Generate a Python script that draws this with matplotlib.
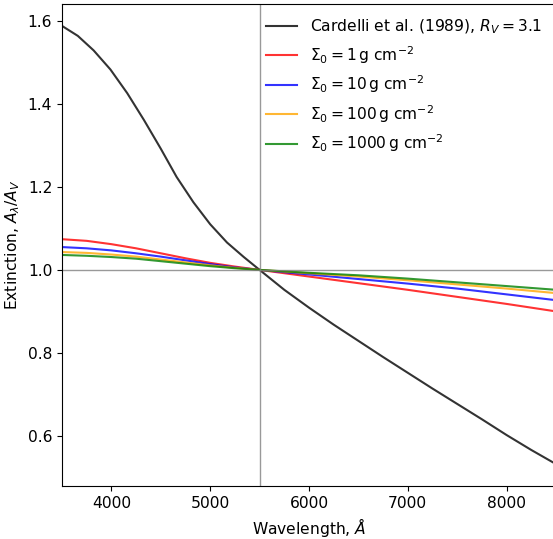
import matplotlib
matplotlib.use('Agg')
import matplotlib.pyplot as plt
import numpy as np

# wavelength grid (Angstrom) and curves
wl_ccm = [3500, 3660, 3820, 3990, 4160, 4330, 4500, 4660, 4830, 5000, 5170, 5340,
          5500, 5750, 6000, 6250, 6500, 6750, 7000, 7250, 7500, 7750, 8000, 8250, 8500]
ext_ccm = [1.588, 1.564, 1.529, 1.483, 1.426, 1.361, 1.292, 1.224, 1.163, 1.110, 1.066, 1.031,
           1.000, 0.952, 0.909, 0.868, 0.829, 0.790, 0.752, 0.714, 0.677, 0.640, 0.602, 0.566, 0.532]

wl = [3500, 3750, 4000, 4250, 4500, 4750, 5000, 5250, 5500,
      6000, 6500, 7000, 7500, 8000, 8500]
ext_s1 = [1.074, 1.070, 1.062, 1.052, 1.040, 1.028, 1.017, 1.008, 1.000,
          0.984, 0.968, 0.952, 0.935, 0.918, 0.900]
ext_s10 = [1.055, 1.052, 1.047, 1.040, 1.032, 1.023, 1.014, 1.006, 1.000,
           0.989, 0.978, 0.967, 0.955, 0.941, 0.927]
ext_s100 = [1.043, 1.041, 1.037, 1.032, 1.025, 1.018, 1.011, 1.005, 1.000,
            0.992, 0.984, 0.975, 0.965, 0.955, 0.944]
ext_s1000 = [1.036, 1.034, 1.031, 1.027, 1.021, 1.015, 1.009, 1.004, 1.000,
             0.993, 0.987, 0.979, 0.970, 0.961, 0.952]

sigmas = [1, 10, 100, 1000]
colours = ['red', 'blue', 'orange', 'green']

plt.rcParams['font.size'] = 11.2

fig = plt.figure(figsize=(5.53, 5.39), dpi=100)
ax = fig.add_axes([62/553, 53/539, 494/553, 482/539])

ax.plot(wl_ccm, ext_ccm, color='k', alpha=0.8, lw=1.5,
        label=r'Cardelli et al. (1989), $R_V=3.1$')
for s, e, c in zip(sigmas, [ext_s1, ext_s10, ext_s100, ext_s1000], colours):
    ax.plot(wl, e, color=c, alpha=0.8, lw=1.5,
            label=r'$\Sigma_0=%d\,$g cm$^{-2}$' % s)

ax.axvline(5500, color='grey', lw=1, alpha=0.8)
ax.axhline(1.0, color='grey', lw=1, alpha=0.8)

ax.set_xlim(3500, 8500)
ax.set_xlabel(r'Wavelength, $\AA$')
ax.set_ylabel(r'Extinction, $A_\lambda/A_V$')
ax.legend(loc='upper right', frameon=False)

fig.savefig('out.png', dpi=100)
